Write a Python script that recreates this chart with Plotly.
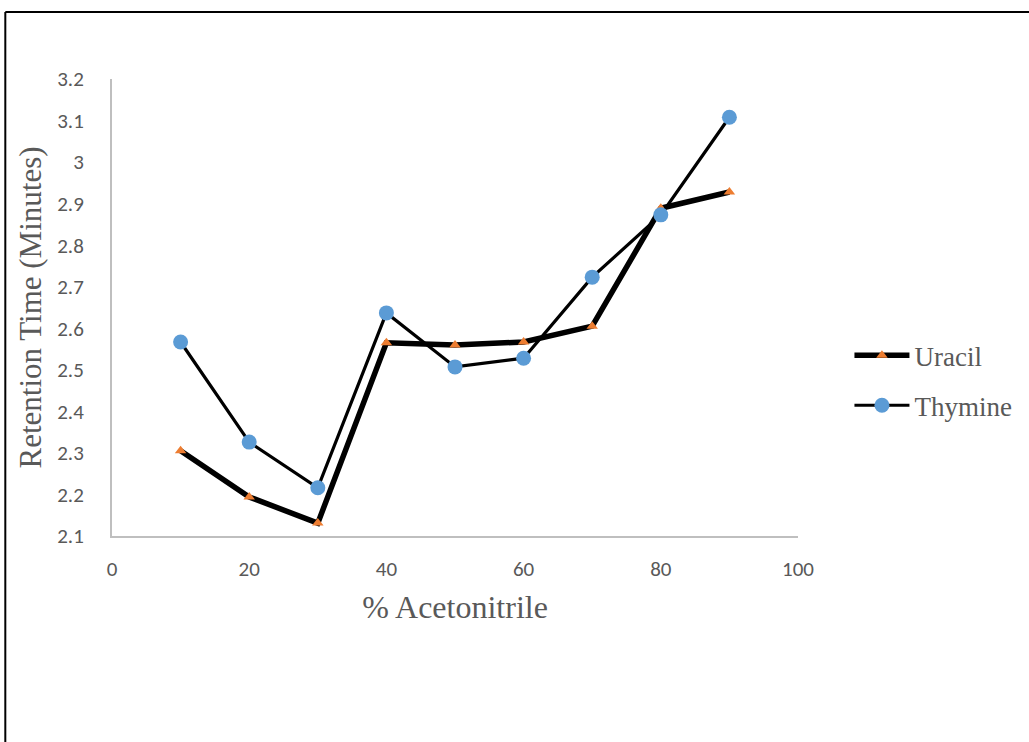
import plotly.graph_objects as go

acetonitrile = [10, 20, 30, 40, 50, 60, 70, 80, 90]
uracil = [2.305, 2.194, 2.131, 2.565, 2.560, 2.567, 2.605, 2.889, 2.928]
thymine = [2.567, 2.326, 2.216, 2.637, 2.507, 2.528, 2.723, 2.873, 3.108]
y_ticks = [2.1, 2.2, 2.3, 2.4, 2.5, 2.6, 2.7, 2.8, 2.9, 3.0, 3.1, 3.2]
y_ticktext = ["2.1", "2.2", "2.3", "2.4", "2.5", "2.6", "2.7", "2.8", "2.9", "3", "3.1", "3.2"]
x_ticks = [0, 20, 40, 60, 80, 100]

fig = go.Figure()
fig.add_trace(go.Scatter(
    x=acetonitrile, y=uracil, name="Uracil", mode="lines+markers",
    line=dict(color="black", width=5.5),
    marker=dict(symbol="triangle-up", color="#ED7D31", size=10),
    legendgroup="u",
))
fig.add_trace(go.Scatter(
    x=acetonitrile, y=thymine, name="Thymine", mode="lines+markers",
    line=dict(color="black", width=3.2),
    marker=dict(symbol="circle", color="#5B9BD5", size=15),
    legendgroup="t",
))

tick_font = dict(family="Carlito, Liberation Sans, Arial, sans-serif", size=21, color="#595959")
serif = "Liberation Serif, Times New Roman, serif"

fig.update_layout(
    width=1029, height=742,
    margin=dict(l=112, r=229, t=79, b=206),
    paper_bgcolor="white", plot_bgcolor="white",
    showlegend=True,
    legend=dict(x=1.075, y=0.34, yanchor="middle", xanchor="left",
                font=dict(family=serif, size=27, color="#595959"),
                tracegroupgap=12, itemwidth=55, bgcolor="rgba(0,0,0,0)"),
    xaxis=dict(range=[0, 100], tickvals=x_ticks, showgrid=False, zeroline=False,
               showline=True, linecolor="#BFBFBF", linewidth=2,
               ticks="", tickfont=tick_font, ticklabelstandoff=13,
               title=dict(text="% Acetonitrile", font=dict(family=serif, size=32, color="#595959"), standoff=14)),
    yaxis=dict(range=[2.1, 3.2], tickvals=y_ticks, ticktext=y_ticktext, showgrid=False, zeroline=False,
               showline=True, linecolor="#BFBFBF", linewidth=2,
               ticks="", tickfont=tick_font, ticklabelstandoff=22,
               title=dict(text="Retention Time (Minutes)", font=dict(family=serif, size=31, color="#595959"), standoff=6)),
)

# outer frame (left and top edges visible)
fx0 = (5 - 112) / 688
fy1 = (536 - 12) / 457
fig.add_shape(type="line", xref="paper", yref="paper", x0=fx0, x1=fx0, y0=-1, y1=fy1,
              line=dict(color="black", width=2))
fig.add_shape(type="line", xref="paper", yref="paper", x0=fx0, x1=2, y0=fy1, y1=fy1,
              line=dict(color="black", width=2))

fig.write_html("out.html")
